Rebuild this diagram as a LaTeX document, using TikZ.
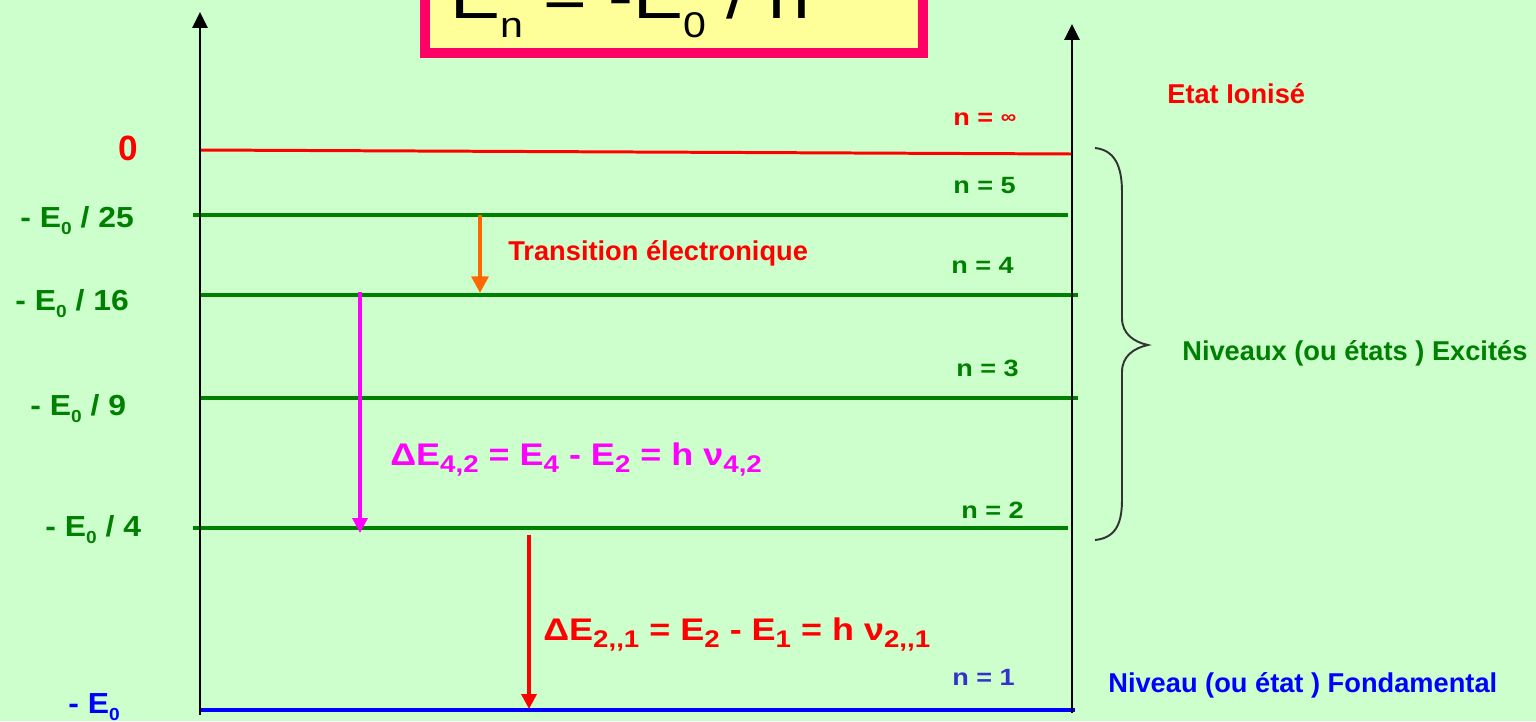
\documentclass[tikz,border=0pt]{standalone}
\usepackage{fontspec}
\setmainfont{Liberation Sans}
\newfontfamily\stfont[FakeStretch=1.15]{Liberation Sans}
\newfontfamily\lfont[FakeStretch=1.1]{Liberation Sans}
\usepackage{graphicx}
\usetikzlibrary{arrows.meta}
\definecolor{bg}{HTML}{CCFFCC}
\definecolor{lgreen}{HTML}{008000}
\definecolor{lred}{HTML}{FF0000}
\definecolor{lblue}{HTML}{0000FF}
\definecolor{nblue}{HTML}{3333CC}
\definecolor{lmag}{HTML}{FF00FF}
\definecolor{lorange}{HTML}{FF6600}
\definecolor{pinkb}{HTML}{FF0066}
\definecolor{yel}{HTML}{FFFF99}
\definecolor{brc}{HTML}{333333}
\newcommand\mysub[2][0.6]{\raisebox{-0.25em}{\scalebox{#1}{#2}}}
\newcommand\mybigsub[1]{\raisebox{-0.3em}{\scalebox{0.55}{#1}}}
\begin{document}
\begin{tikzpicture}[x=0.02cm,y=-0.02cm,
  lbl/.style={inner sep=0pt, anchor=base west},
  leftlab/.style={lbl, text=lgreen, font=\lfont\bfseries\fontsize{16.5pt}{18pt}\selectfont},
  nlab/.style={lbl, text=lgreen, font=\stfont\bfseries\fontsize{13.4pt}{15pt}\selectfont},
  sidelab/.style={lbl, font=\bfseries\fontsize{15.5pt}{17pt}\selectfont},
  formula/.style={lbl, font=\stfont\bfseries\fontsize{17.8pt}{19pt}\selectfont},
  axis/.style={line width=1.6pt, draw=black, -{Triangle[width=8.5pt,length=9pt]}},
  lvl/.style={line width=2.3pt, draw=lgreen},
  trans/.style={-{Triangle[width=8pt,length=8pt]}}
]
\useasboundingbox (0,0) rectangle (1536,721);
\fill[bg] (0,0) rectangle (1536,721);

% formula box (cut off at the top, as in the reference)
\begin{scope}
\clip (0,0) rectangle (1536,721);
\draw[line width=5.7pt, draw=pinkb, fill=yel] (425,-80) rectangle (923,53);
\node[lbl, font=\stfont\fontsize{37pt}{40pt}\selectfont] (formtop) at (450,18)
  {E\mybigsub{n} = -E\mybigsub{0} / n};
\end{scope}

% level coordinates
\coordinate (inf0) at (200,150); \coordinate (inf1) at (1072,154);
\coordinate (l5a) at (193,215); \coordinate (l5b) at (1068,215);
\coordinate (l4a) at (200,295); \coordinate (l4b) at (1078,295);
\coordinate (l3a) at (200,398); \coordinate (l3b) at (1078,398);
\coordinate (l2a) at (193,528); \coordinate (l2b) at (1068,528);
\coordinate (l1a) at (200,710); \coordinate (l1b) at (1075,710);

\draw[line width=1.7pt, draw=lred] (inf0) -- (inf1);
\draw[lvl] (l5a) -- (l5b);
\draw[lvl] (l4a) -- (l4b);
\draw[lvl] (l3a) -- (l3b);
\draw[lvl] (l2a) -- (l2b);
\draw[line width=2.3pt, draw=lblue] (l1a) -- (l1b);

% axes
\coordinate (ax0) at (200,715); \coordinate (ax1) at (200,12);
\coordinate (bx0) at (1072,713); \coordinate (bx1) at (1072,24);
\draw[axis] (ax0) -- (ax1);
\draw[axis] (bx0) -- (bx1);

% transitions
\coordinate (o0) at (480,215); \coordinate (o1) at (480,293);
\coordinate (m0) at (360,292); \coordinate (m1) at (360,533);
\coordinate (r0) at (529,535); \coordinate (r1) at (529,709);
\draw[line width=2.3pt, draw=lorange, fill=lorange, -{Triangle[width=9.5pt,length=9.5pt]}] (o0) -- (o1);
\draw[line width=2pt, draw=lmag, fill=lmag, -{Triangle[width=8.5pt,length=8.5pt]}] (m0) -- (m1);
\draw[line width=2pt, draw=lred, fill=lred, -{Triangle[width=8.5pt,length=8.5pt]}] (r0) -- (r1);

% left labels
\node[lbl, text=lred, font=\bfseries\fontsize{20pt}{22pt}\selectfont] (z) at (118,160) {0};
\node[leftlab] (e25) at (20,227) {- E\mysub{0} / 25};
\node[leftlab] (e16) at (15,310) {- E\mysub{0} / 16};
\node[leftlab] (e9) at (30,415) {- E\mysub{0} / 9};
\node[leftlab] (e4) at (45,536) {- E\mysub{0} / 4};
\node[leftlab, text=lblue] (e1) at (68,713) {- E\mysub{0}};

% n labels
\node[nlab, text=lred] (ninf) at (953,125) {n = \raisebox{0.05em}{\scalebox{0.8}{∞}}};
\node[nlab] (n5) at (953,193) {n = 5};
\node[nlab] (n4) at (951,273) {n = 4};
\node[nlab] (n3) at (956,376) {n = 3};
\node[nlab] (n2) at (961,518) {n = 2};
\node[nlab, text=nblue] (n1) at (952,685) {n = 1};

% side labels
\node[sidelab, text=lred] (ion) at (1167,103) {Etat Ionisé};
\node[sidelab, text=lgreen] (exc) at (1182,360) {Niveaux (ou états ) Excités};
\node[sidelab, text=lblue] (fond) at (1108,692) {Niveau (ou état ) Fondamental};

% brace
\draw[line width=1.1pt, draw=brc]
  (1095,148) .. controls (1114,150) and (1122,165) .. (1122,192)
  -- (1122,318) .. controls (1122,334) and (1134,342) .. (1148,345)
  .. controls (1134,348) and (1122,356) .. (1122,372)
  -- (1122,500) .. controls (1122,526) and (1114,538) .. (1095,540);

% transition labels
\node[sidelab, text=lred] (trl) at (508,260) {Transition électronique};
\node[formula, text=lmag] (dm) at (390,465)
  {ΔE\mysub[0.77]{4,2} = E\mysub[0.77]{4} - E\mysub[0.77]{2} = h ν\mysub[0.77]{4,2}};
\node[formula, text=lred] (dr) at (543,640)
  {ΔE\mysub[0.77]{2,,1} = E\mysub[0.77]{2} - E\mysub[0.77]{1} = h ν\mysub[0.77]{2,,1}};
\end{tikzpicture}
\end{document}
